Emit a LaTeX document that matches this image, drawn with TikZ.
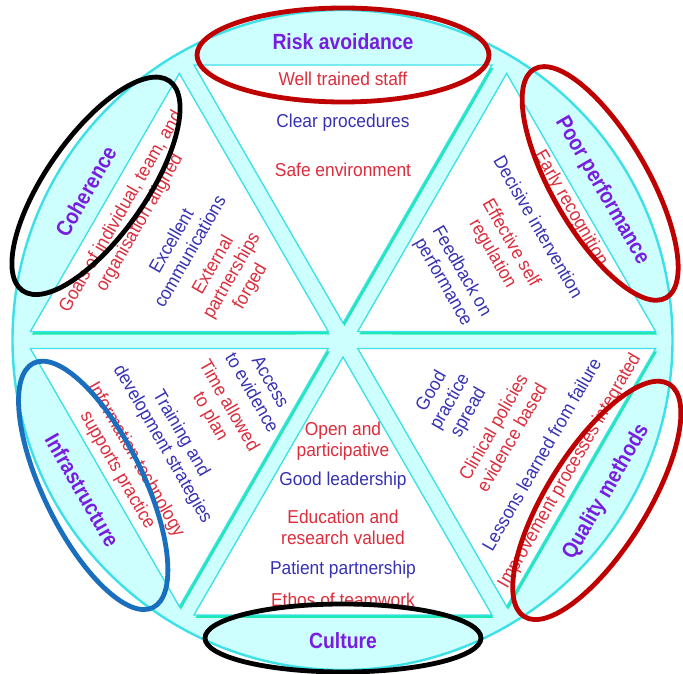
\documentclass[tikz,border=0pt]{standalone}
\usepackage{fontspec}
\setmainfont{Liberation Sans}[FakeStretch=0.93]
\newfontfamily\headfont{Liberation Sans}[FakeStretch=0.88]
\usepackage{tikz}

\definecolor{paleCyan}{RGB}{206,255,255}
\definecolor{rimCyan}{RGB}{60,225,232}
\definecolor{shadeTeal}{RGB}{30,232,180}
\definecolor{itemRed}{RGB}{220,45,60}
\definecolor{itemBlue}{RGB}{55,50,180}
\definecolor{headPurple}{RGB}{120,30,225}
\definecolor{ringRed}{RGB}{190,0,0}
\definecolor{ringBlue}{RGB}{25,110,190}

\tikzstyle{disc} = [fill=paleCyan, draw=rimCyan, line width=1.8pt]
\tikzstyle{tri} = [fill=white, draw=rimCyan, line width=1pt]
\tikzstyle{tri-shadow} = [fill=shadeTeal]
\tikzstyle{heading} = [text=headPurple,
font=\headfont\fontsize{16.5}{19}\selectfont\bfseries]
\tikzstyle{red-item} = [text=itemRed, align=center,
font=\fontsize{14}{16}\selectfont]
\tikzstyle{blue-item} = [text=itemBlue, align=center,
font=\fontsize{14}{16}\selectfont]
\tikzstyle{ring-red} = [draw=ringRed, line width=3.6pt]
\tikzstyle{ring-black} = [draw=black, line width=3.6pt]
\tikzstyle{ring-blue} = [draw=ringBlue, line width=3.6pt]

\begin{document}
\begin{tikzpicture}[x=0.75pt, y=0.75pt]
    \useasboundingbox (-343,-334) rectangle (340,340);

    % disc and the six triangles
    \draw [disc] (-0.5,0) circle (330);
    \foreach \a in {0,60,...,300} {
        \fill [tri-shadow, shift={(1.5,-3)}, rotate=\a] (0,17) -- (-149,275) -- (149,275) -- cycle;
        \draw [tri, rotate=\a] (0,17) -- (-149,275) -- (149,275) -- cycle;
    }

    % risk avoidance
    \begin{scope}
        \node (risk-title) [heading] at (0,298) {Risk avoidance};
        \node (staff) [red-item] at (0,261) {Well trained staff};
        \node (procedures) [blue-item] at (0,217) {Clear procedures};
        \node (environment) [red-item] at (0,170) {Safe environment};
        \draw [ring-red] (0,285) ellipse [x radius=146, y radius=47];
    \end{scope}

    % coherence
    \begin{scope}[rotate=60]
        \node (coherence-title) [heading, rotate=60] at (0,297) {Coherence};
        \node (goals) [red-item, rotate=60] at (0,245) {Goals of individual, team, and\\organisation aligned};
        \node (communications) [blue-item, rotate=60] at (0,188) {Excellent\\communications};
        \node (partnerships) [red-item, rotate=60] at (0,128) {External\\partnerships\\forged};
        \draw [ring-black, rotate around={-5:(10,291)}] (10,291) ellipse [x radius=128, y radius=50];
    \end{scope}

    % poor performance
    \begin{scope}[rotate=-60]
        \node (poor-title) [heading, rotate=-60] at (0,299) {Poor performance};
        \node (recognition) [red-item, rotate=-60] at (0,263) {Early recognition};
        \node (intervention) [blue-item, rotate=-60] at (0,226) {Decisive intervention};
        \node (regulation) [red-item, rotate=-60] at (0,183) {Effective self\\regulation};
        \node (feedback) [blue-item, rotate=-60] at (0,126) {Feedback on\\performance};
        \draw [ring-red] (-7,301) ellipse [x radius=132, y radius=48];
    \end{scope}

    % infrastructure
    \begin{scope}[rotate=-60]
        \node (infra-title) [heading, rotate=-60] at (0,-301) {Infrastructure};
        \node (evidence) [blue-item, rotate=-60] at (0,-94) {Access\\to evidence};
        \node (plan) [red-item, rotate=-60] at (0,-143) {Time allowed\\to plan};
        \node (training) [blue-item, rotate=-60] at (0,-198) {Training and\\development strategies};
        \node (technology) [red-item, rotate=-60] at (0,-250) {Information technology\\supports practice};
        \draw [ring-blue, rotate around={-4:(1,-289)}] (1,-289) ellipse [x radius=136, y radius=50];
    \end{scope}

    % quality methods
    \begin{scope}[rotate=60]
        \node (quality-title) [heading, rotate=60] at (0,-304) {Quality methods};
        \node (spread) [blue-item, rotate=60] at (0,-124) {Good\\practice\\spread};
        \node (policies) [red-item, rotate=60] at (0,-184) {Clinical policies\\evidence based};
        \node (lessons) [blue-item, rotate=60] at (0,-229) {Lessons learned from failure};
        \node (improvement) [red-item, rotate=60] at (0,-262) {Improvement processes integrated};
        \draw [ring-red, rotate around={-2:(-12,-300)}] (-12,-300) ellipse [x radius=137, y radius=50];
    \end{scope}

    % culture
    \begin{scope}
        \node (culture-title) [heading] at (0,-301) {Culture};
        \node (participative) [red-item] at (0,-101) {Open and\\participative};
        \node (leadership) [blue-item] at (0,-141) {Good leadership};
        \node (research) [red-item] at (0,-187) {Education and\\research valued};
        \node (partnership) [blue-item] at (0,-230) {Patient partnership};
        \node (teamwork) [red-item] at (0,-260) {Ethos of teamwork};
        \draw [ring-black] (0,-298) ellipse [x radius=138, y radius=34];
    \end{scope}
\end{tikzpicture}
\end{document}
